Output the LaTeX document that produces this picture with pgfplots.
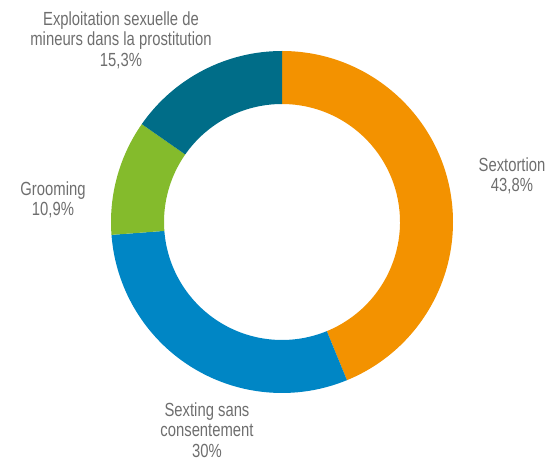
\documentclass[border=0pt]{standalone}
\usepackage{pgfplots}
\pgfplotsset{compat=1.18}
\usepackage{pgfplotstable}
\usetikzlibrary{calc}
\usepackage{fontspec}
\setmainfont{Liberation Sans}[FakeStretch=0.78]
\definecolor{cOrange}{HTML}{F39200}
\definecolor{cBlue}{HTML}{0086C5}
\definecolor{cGreen}{HTML}{84BB2C}
\definecolor{cTeal}{HTML}{006D88}
\definecolor{cText}{HTML}{6E6E6E}
\pgfplotstableread{
value colour
43.8 cOrange
30.0 cBlue
10.9 cGreen
15.3 cTeal
}\slices
\begin{document}
\begin{tikzpicture}
\begin{axis}[
  x=1pt, y=1pt, xmin=0, xmax=550, ymin=0, ymax=461,
  hide axis, clip=false, scale only axis,
]
\addplot[draw=none] coordinates {(0,0) (550,461)};
\pgfplotsextra{
  \pgfplotstablegetrowsof{\slices}
  \pgfmathtruncatemacro{\nrows}{\pgfplotsretval-1}
  \xdef\startang{90}
  \foreach \i in {0,...,\nrows}{
    \pgfplotstablegetelem{\i}{value}\of{\slices}\edef\val{\pgfplotsretval}
    \pgfplotstablegetelem{\i}{colour}\of{\slices}\edef\col{\pgfplotsretval}
    \pgfmathsetmacro{\endang}{\startang-3.6*\val}
    \fill[\col] (axis cs:282,239) ++(\startang:171pt) arc[start angle=\startang, end angle=\endang, radius=171pt]
      -- ($(axis cs:282,239)+(\endang:118pt)$) arc[start angle=\endang, end angle=\startang, radius=118pt] -- cycle;
    \xdef\startang{\endang}
  }
}
\begin{scope}[every node/.style={text=cText, align=center, inner sep=0pt, font=\fontsize{19}{20.5}\selectfont}]
\node at (axis cs:121,421) {Exploitation sexuelle de\\mineurs dans la prostitution\\15,3\%};
\node at (axis cs:53,261) {Grooming\\10,9\%};
\node at (axis cs:512,285) {Sextortion\\43,8\%};
\node at (axis cs:207,31) {Sexting sans\\consentement\\30\%};
\end{scope}
\end{axis}
\end{tikzpicture}
\end{document}
